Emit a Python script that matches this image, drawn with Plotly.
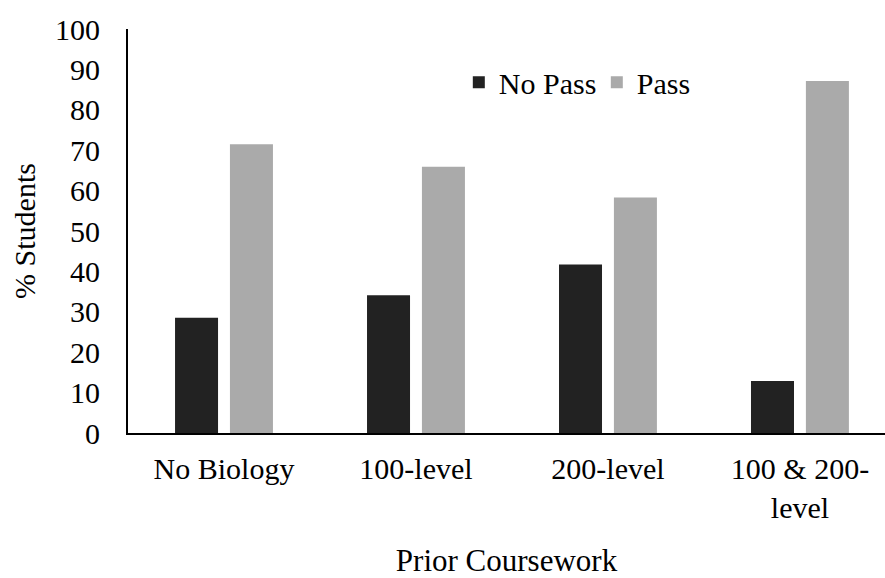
import plotly.graph_objects as go

# Share of students who passed / did not pass, by prior biology coursework
categories = ["No Biology", "100-level", "200-level", "100 & 200-<br>level"]
no_pass = [28.5, 34.1, 41.7, 12.9]
passed = [71.5, 65.9, 58.3, 87.1]
y_ticks = list(range(0, 101, 10))

FONT = "Liberation Serif"
BAR_W = 0.224
txt = dict(family=FONT, size=30, color="black")
title_txt = dict(family=FONT, size=31, color="black")

fig = go.Figure()
fig.add_trace(go.Bar(
    x=categories, y=no_pass, name="No Pass",
    marker=dict(color="#222222", line=dict(width=0)),
    width=BAR_W, offset=-0.255,
))
fig.add_trace(go.Bar(
    x=categories, y=passed, name="Pass",
    marker=dict(color="#AAAAAA", line=dict(width=0)),
    width=BAR_W, offset=0.031,
))

fig.update_layout(
    width=885, height=578,
    margin=dict(l=128, r=0, t=29, b=145),
    paper_bgcolor="white", plot_bgcolor="white",
    barmode="overlay",
    font=txt,
    showlegend=True,
    legend=dict(
        orientation="h", x=0.437, y=0.868, xanchor="left", yanchor="middle",
        bgcolor="rgba(0,0,0,0)", font=txt,
        itemwidth=30, tracegroupgap=0,
        entrywidth=93, entrywidthmode="pixels",
    ),
    xaxis=dict(
        range=[-0.5, 3.443], showline=True, linecolor="black", linewidth=2,
        showgrid=False, ticks="", ticklabelstandoff=8, tickfont=txt,
        title=dict(text="Prior Coursework", standoff=38, font=title_txt),
        zeroline=False, fixedrange=True, automargin=False,
    ),
    yaxis=dict(
        range=[0, 100], tickvals=y_ticks, showline=True, linecolor="black",
        linewidth=2, showgrid=False, ticks="", ticklabelstandoff=20,
        tickfont=txt,
        title=dict(text="% Students", standoff=11, font=txt),
        zeroline=False, fixedrange=True, automargin=False,
    ),
)

fig.write_html("out.html")
